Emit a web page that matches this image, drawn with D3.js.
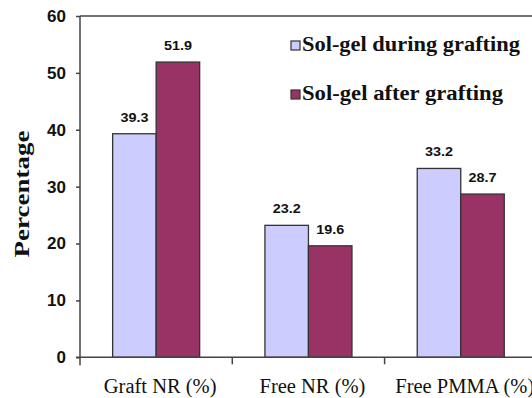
<!DOCTYPE html>
<html>
<head>
<meta charset="utf-8">
<script src="https://cdn.jsdelivr.net/npm/d3@7"></script>
<style>
  html, body { margin: 0; padding: 0; background: #fff; }
  svg { display: block; }
</style>
</head>
<body>
<div id="chart"></div>
<script>
// Chart data
const categories = ["Graft NR (%)", "Free NR (%)", "Free PMMA (%)"];
const seriesNames = ["Sol-gel during grafting", "Sol-gel after grafting"];
const duringValues = [39.3, 23.2, 33.2];
const afterValues = [51.9, 19.6, 28.7];
const yTicks = [0, 10, 20, 30, 40, 50, 60];
const seriesColors = ["#ccccff", "#993366"];

const W = 532, H = 398;
const plotLeft = 80, plotTop = 16, plotBottom = 357.3;
const step = 152.3;

const svg = d3.select("#chart").append("svg")
  .attr("width", W).attr("height", H);

const x0 = d3.scaleBand().domain(categories)
  .range([plotLeft, plotLeft + step * categories.length]).padding(0);
const x1 = d3.scaleBand().domain(seriesNames)
  .range([0, x0.bandwidth()]).paddingInner(0).paddingOuter(0.75);
const y = d3.scaleLinear().domain([0, 60]).range([plotBottom, plotTop]);

const rows = categories.map((c, i) => ({
  cat: c,
  vals: [
    { s: seriesNames[0], v: duringValues[i], color: seriesColors[0] },
    { s: seriesNames[1], v: afterValues[i], color: seriesColors[1] }
  ]
}));

// top frame line of the plot area
svg.append("line")
  .attr("x1", plotLeft).attr("x2", W)
  .attr("y1", y(60)).attr("y2", y(60))
  .attr("stroke", "#444").attr("stroke-width", 1.5);

// bars
const g = svg.selectAll("g.grp").data(rows).enter().append("g")
  .attr("class", "grp")
  .attr("transform", d => `translate(${x0(d.cat)},0)`);

g.selectAll("rect").data(d => d.vals).enter().append("rect")
  .attr("x", d => x1(d.s))
  .attr("y", d => y(d.v))
  .attr("width", x1.bandwidth())
  .attr("height", d => y(0) - y(d.v))
  .attr("fill", d => d.color)
  .attr("stroke", "#333")
  .attr("stroke-width", 1.3);

// value labels
g.selectAll("text.val").data(d => d.vals).enter().append("text")
  .attr("class", "val")
  .attr("x", d => x1(d.s) + x1.bandwidth() / 2)
  .attr("y", d => y(d.v) - 12)
  .attr("text-anchor", "middle")
  .attr("font-family", "Liberation Sans, Arial, sans-serif")
  .attr("font-weight", "bold")
  .attr("font-size", 13.5)
  .attr("textLength", 28)
  .attr("lengthAdjust", "spacingAndGlyphs")
  .attr("fill", "#111")
  .text(d => d.v.toFixed(1));

// y axis
const yAxis = d3.axisLeft(y).tickValues(yTicks).tickSize(4).tickPadding(10)
  .tickFormat(d3.format("d"));
const ya = svg.append("g").attr("transform", `translate(${plotLeft},0)`).call(yAxis);
ya.select(".domain").attr("stroke", "#444").attr("stroke-width", 1.5)
  .attr("d", `M0,${y(60)}V${plotBottom + 8}`);
ya.selectAll(".tick line").attr("stroke", "#444").attr("stroke-width", 1.5);
ya.selectAll(".tick text")
  .attr("font-family", "Liberation Sans, Arial, sans-serif")
  .attr("font-weight", "bold")
  .attr("font-size", 17)
  .attr("fill", "#111");

// x axis
const xa = svg.append("g").attr("transform", `translate(0,${plotBottom})`);
xa.append("line")
  .attr("x1", plotLeft - 4).attr("x2", W)
  .attr("y1", 0).attr("y2", 0)
  .attr("stroke", "#444").attr("stroke-width", 1.5);
xa.selectAll("line.xt").data(categories.slice(1)).enter().append("line")
  .attr("class", "xt")
  .attr("x1", d => x0(d)).attr("x2", d => x0(d))
  .attr("y1", 0).attr("y2", 7)
  .attr("stroke", "#444").attr("stroke-width", 1.5);
xa.selectAll("text.cat").data(categories).enter().append("text")
  .attr("class", "cat")
  .attr("x", d => x0(d) + x0.bandwidth() / 2 + 4)
  .attr("y", 36)
  .attr("text-anchor", "middle")
  .attr("font-family", "Liberation Serif, Times New Roman, serif")
  .attr("font-size", 20.5)
  .attr("fill", "#111")
  .text(d => d);

// y axis title
svg.append("text")
  .attr("transform", "translate(28.5,194) rotate(-90)")
  .attr("text-anchor", "middle")
  .attr("font-family", "Liberation Serif, Times New Roman, serif")
  .attr("font-weight", "bold")
  .attr("font-size", 22)
  .attr("textLength", 127)
  .attr("lengthAdjust", "spacingAndGlyphs")
  .attr("fill", "#111")
  .text("Percentage");

// legend
const legendLengths = [218, 201];
const legend = svg.append("g").attr("transform", "translate(291,41)");
const li = legend.selectAll("g").data(seriesNames).enter().append("g")
  .attr("transform", (d, i) => `translate(0,${i * 49})`);
li.append("rect")
  .attr("width", 9).attr("height", 9)
  .attr("fill", (d, i) => seriesColors[i])
  .attr("stroke", "#333").attr("stroke-width", 1.2);
li.append("text")
  .attr("x", 11).attr("y", 10)
  .attr("font-family", "Liberation Serif, Times New Roman, serif")
  .attr("font-weight", "bold")
  .attr("font-size", 20.5)
  .attr("textLength", (d, i) => legendLengths[i])
  .attr("lengthAdjust", "spacingAndGlyphs")
  .attr("fill", "#111")
  .text(d => d);
</script>
</body>
</html>
